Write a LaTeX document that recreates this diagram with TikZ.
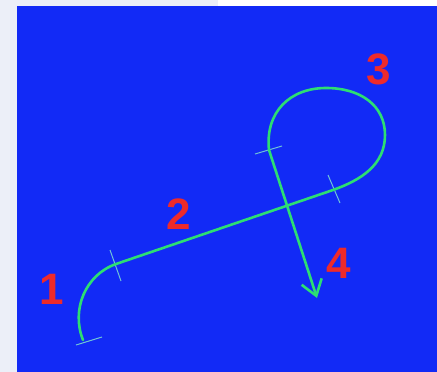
\documentclass[tikz,border=0pt]{standalone}
\usepackage{fontspec}
\setmainfont{Liberation Sans}
\usetikzlibrary{arrows.meta}
\definecolor{bgblue}{RGB}{18,42,246}
\definecolor{pathgreen}{RGB}{45,222,115}
\definecolor{tickcol}{RGB}{110,195,215}
\definecolor{labred}{RGB}{238,42,42}
\definecolor{margin}{RGB}{236,239,248}
\tikzset{
  pathline/.style={draw=pathgreen, line width=2.6pt, line cap=round, line join=round},
  tickline/.style={draw=tickcol, line width=1pt},
  lab/.style={text=labred, font=\fontsize{44}{44}\selectfont\bfseries, inner sep=0pt}
}
\begin{document}
\begin{tikzpicture}[x=1pt,y=-1pt]
\useasboundingbox (0,0) rectangle (437,372);
\fill[margin] (0,0) rectangle (437,372);
\fill[white] (218,0) rectangle (437,6);
\fill[bgblue] (17,6) rectangle (437,372);
% key points
\coordinate (s1) at (83,340);
\coordinate (j2) at (116,264);
\coordinate (j3) at (333,190);
\coordinate (j4) at (269,150);
\coordinate (tip) at (317,298);
\coordinate (r3) at (385,135);
\coordinate (t3) at (326,88);
% ticks
\draw[tickline] (76,345) -- (102,337);
\draw[tickline] (110,250) -- (121,281);
\draw[tickline] (328,175) -- (340,203);
\draw[tickline] (255,154) -- (282,146);
% path
\draw[pathline] (s1) .. controls (71,310) and (85,275) .. (j2) -- (j3)
  .. controls (361,180) and (385,165) .. (r3)
  .. controls (385,105) and (360,88) .. (t3)
  .. controls (290,88) and (265,112) .. (j4);
\draw[pathline, -{Straight Barb[length=15pt,width=21pt,line width=2.6pt]}] (j4) -- (tip);
% labels
\node[lab] (l1) at (52,289) {1};
\node[lab] (l2) at (179,214) {2};
\node[lab] (l3) at (379,69) {3};
\node[lab] (l4) at (339,263) {4};
\end{tikzpicture}
\end{document}
